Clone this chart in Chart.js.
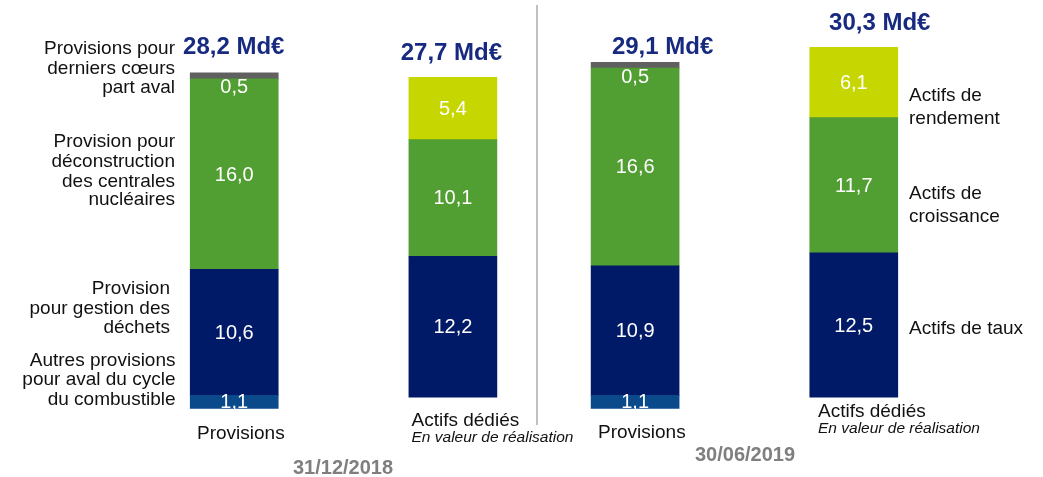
<!DOCTYPE html>
<html lang="fr">
<head>
<meta charset="utf-8">
<title>Provisions et actifs dédiés</title>
<script src="https://cdn.jsdelivr.net/npm/chart.js@4.4.0/dist/chart.umd.min.js"></script>
<style>
    html, body { margin: 0; padding: 0; background: #ffffff; }
    #contenedor { position: relative; width: 1043px; height: 477px; }
</style>
</head>
<body>
<div id="contenedor"><canvas id="myChart"></canvas></div>
<script>
// datos (Md€)
const categorias = ['Provisions', 'Actifs dédiés', 'Provisions', 'Actifs dédiés'];
const periodos = ['31/12/2018', '30/06/2019'];

const provAutres = [1.1, 1.1];
const provDechets = [10.6, 10.9];
const provDeconstruction = [16.0, 16.6];
const provDerniersCoeurs = [0.5, 0.5];

const actifsTaux = [12.2, 12.5];
const actifsCroissance = [10.1, 11.7];
const actifsRendement = [5.4, 6.1];

const totales = [28.2, 27.7, 29.1, 30.3];

// las barras no estan espaciadas igual: se colocan en huecos de un eje de 18 posiciones
const numHuecos = 18;
const huecos = [0, 6, 11, 17];
const huecosProv = [huecos[0], huecos[2]];
const huecosActifs = [huecos[1], huecos[3]];

function repartir(valores, posiciones) {
    const arr = new Array(numHuecos).fill(null);
    posiciones.forEach((p, i) => { arr[p] = valores[i]; });
    return arr;
}

const etiquetas = new Array(numHuecos).fill('');
huecos.forEach((p, i) => { etiquetas[p] = categorias[i]; });

const FUENTE = '"Liberation Sans", Arial, sans-serif';
const azul = '#001a68';
const verde = '#519e32';
const amarillo = '#c6d600';
const gris = '#606060';
const azulClaro = '#0a4a8a';

const coma = v => v.toFixed(1).replace('.', ',');

// textos a la izquierda (alineados a la derecha)
const notasIzq = [
    { x: 175, lineas: [['Provisions pour', 54], ['derniers cœurs', 74], ['part aval', 93]] },
    { x: 175, lineas: [['Provision pour', 147], ['déconstruction', 167], ['des centrales', 186.5], ['nucléaires', 205]] },
    { x: 170, lineas: [['Provision', 294], ['pour gestion des', 313.5], ['déchets', 333]] },
    { x: 175.5, lineas: [['Autres provisions', 366], ['pour aval du cycle', 385], ['du combustible', 404.5]] }
];
// textos a la derecha
const notasDer = [
    { x: 909, lineas: [['Actifs de', 101], ['rendement', 124]] },
    { x: 909, lineas: [['Actifs de', 198.5], ['croissance', 221.5]] },
    { x: 909, lineas: [['Actifs de taux', 333.5]] }
];
// totales: desplazamiento respecto al centro de la barra y linea base
const posTotales = [[-0.5, 53.5], [-1.5, 60], [27.5, 53.5], [26, 30]];
// etiquetas bajo las barras
const posCategorias = [[197, 439], [411.5, 425.5], [598, 437.5], [818, 417]];
const posPeriodos = [[293, 473.5], [695, 460.5]];

const textos = {
    id: 'textos',
    afterDatasetsDraw(chart) {
        const ctx = chart.ctx;
        ctx.save();

        // separador vertical
        ctx.strokeStyle = '#c0c0c0';
        ctx.lineWidth = 2;
        ctx.beginPath();
        ctx.moveTo(537, 5);
        ctx.lineTo(537, 425);
        ctx.stroke();

        // valores dentro de las barras
        ctx.fillStyle = '#ffffff';
        ctx.font = '20px ' + FUENTE;
        ctx.textAlign = 'center';
        ctx.textBaseline = 'middle';
        chart.data.datasets.forEach((ds, i) => {
            const meta = chart.getDatasetMeta(i);
            meta.data.forEach((el, j) => {
                const v = ds.data[j];
                if (v === null || v === undefined) return;
                let y = (el.y + el.base) / 2;
                if (ds.etiquetaDebajo) y = el.base + 8;
                ctx.fillText(coma(v), el.x, y + 1);
            });
        });

        // totales
        const meta0 = chart.getDatasetMeta(3);
        const meta1 = chart.getDatasetMeta(6);
        const barras = [meta0.data[huecos[0]], meta1.data[huecos[1]], meta0.data[huecos[2]], meta1.data[huecos[3]]];
        ctx.fillStyle = '#172a80';
        ctx.font = 'bold 24px ' + FUENTE;
        ctx.textBaseline = 'alphabetic';
        barras.forEach((el, i) => {
            ctx.fillText(coma(totales[i]) + ' Md€', el.x + posTotales[i][0], posTotales[i][1]);
        });

        // notas
        ctx.fillStyle = '#111111';
        ctx.font = '19px ' + FUENTE;
        ctx.textAlign = 'right';
        notasIzq.forEach(n => n.lineas.forEach(l => ctx.fillText(l[0], n.x, l[1])));
        ctx.textAlign = 'left';
        notasDer.forEach(n => n.lineas.forEach(l => ctx.fillText(l[0], n.x, l[1])));

        // categorias
        categorias.forEach((c, i) => {
            ctx.font = '19px ' + FUENTE;
            ctx.fillText(c, posCategorias[i][0], posCategorias[i][1]);
            if (c === 'Actifs dédiés') {
                ctx.font = 'italic 15.5px ' + FUENTE;
                ctx.fillText('En valeur de réalisation', posCategorias[i][0], posCategorias[i][1] + 16);
            }
        });

        // fechas
        ctx.fillStyle = '#7f7f7f';
        ctx.font = 'bold 20px ' + FUENTE;
        periodos.forEach((p, i) => ctx.fillText(p, posPeriodos[i][0], posPeriodos[i][1]));

        ctx.restore();
    }
};

const grafica = document.querySelector('#myChart');

new Chart(grafica, {
    type: 'bar',
    data: {
        labels: etiquetas,
        datasets: [
            { label: 'Autres provisions', data: repartir(provAutres, huecosProv), backgroundColor: azulClaro, yAxisID: 'y' },
            { label: 'Gestion des déchets', data: repartir(provDechets, huecosProv), backgroundColor: azul, yAxisID: 'y' },
            { label: 'Déconstruction', data: repartir(provDeconstruction, huecosProv), backgroundColor: verde, yAxisID: 'y' },
            { label: 'Derniers cœurs', data: repartir(provDerniersCoeurs, huecosProv), backgroundColor: gris, yAxisID: 'y', etiquetaDebajo: true },
            { label: 'Actifs de taux', data: repartir(actifsTaux, huecosActifs), backgroundColor: azul, yAxisID: 'y2' },
            { label: 'Actifs de croissance', data: repartir(actifsCroissance, huecosActifs), backgroundColor: verde, yAxisID: 'y2' },
            { label: 'Actifs de rendement', data: repartir(actifsRendement, huecosActifs), backgroundColor: amarillo, yAxisID: 'y2' }
        ]
    },
    options: {
        responsive: true,
        maintainAspectRatio: false,
        animation: false,
        barThickness: 88,
        datasets: {
            bar: { clip: false }
        },
        layout: {
            padding: { left: 216, right: 171, top: 0, bottom: 68.5 }
        },
        plugins: {
            legend: { display: false },
            tooltip: { enabled: false },
            title: { display: false }
        },
        scales: {
            x: { stacked: true, display: false },
            y: { stacked: true, display: false, min: 0, max: 34.33 },
            y2: { stacked: true, display: false, min: -0.98, max: 34.39 }
        }
    },
    plugins: [textos]
});
</script>
</body>
</html>
